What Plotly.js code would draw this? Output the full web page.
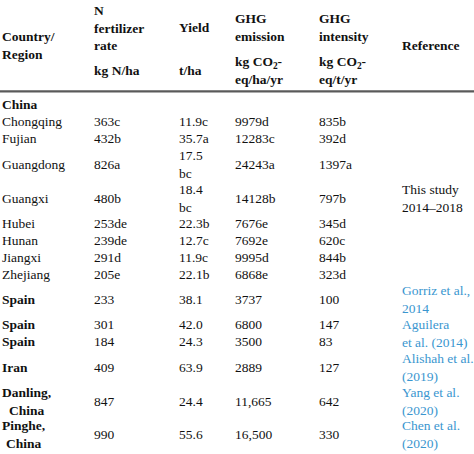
<!DOCTYPE html>
<html>
<head>
<meta charset="utf-8">
<script src="https://cdn.plot.ly/plotly-3.0.1.min.js"></script>
<style>html,body{margin:0;padding:0;background:#fff;}#chart{width:474px;height:454px;}</style>
</head>
<body>
<div id="chart"></div>
<script>
// ---- data ----
var regions = ["China","Chongqing","Fujian","Guangdong","Guangxi","Hubei","Hunan","Jiangxi","Zhejiang","Spain","Spain","Spain","Iran","Danling,<br>China","Pinghe,<br>China"];
var regionBold = [true,false,false,false,false,false,false,false,false,true,true,true,true,true,true];
var nRate = ["","363c","432b","826a","480b","253de","239de","291d","205e","233","301","184","409","847","990"];
var yieldVals = ["","11.9c","35.7a","17.5<br>bc","18.4<br>bc","22.3b","12.7c","11.9c","22.1b","38.1","42.0","24.3","63.9","24.4","55.6"];
var ghgEmission = ["","9979d","12283c","24243a","14128b","7676e","7692e","9995d","6868e","3737","6800","3500","2889","11,665","16,500"];
var ghgIntensity = ["","835b","392d","1397a","797b","345d","620c","844b","323d","100","147","83","127","642","330"];
var refText = ["This study<br>2014–2018","Gorriz et al.,<br>2014","Aguilera<br>et al. (2014)","Alishah et al.<br>(2019)","Yang et al.<br>(2020)","Chen et al.<br>(2020)"];
var refFirstRow = [1,9,10,12,13,14];
var refLastRow = [8,9,11,12,13,14];
var refLinked = [false,true,true,true,true,true];
var headerNames = ["Country/<br>Region","N<br>fertilizer<br>rate","Yield","GHG<br>emission","GHG<br>intensity","Reference"];
var headerUnits = ["","kg N/ha","t/ha","kg CO<sub>2</sub>-<br>eq/ha/yr","kg CO<sub>2</sub>-<br>eq/t/yr",""];

// ---- layout constants ----
var colX = [0, 92, 177, 233, 317, 400];
var FONT = "Liberation Serif";
var FS = 13.5;
var TXT = "#111111";
var BLUE = "#3a96cf";

function nLines(s){ return s.split("<br>").length; }

// row heights in text lines
var rowLines = regions.map(function(r,i){
  var m = Math.max(nLines(r), nLines(nRate[i]), nLines(yieldVals[i]), nLines(ghgEmission[i]), nLines(ghgIntensity[i]));
  refText.forEach(function(t,j){ if(refFirstRow[j]===i && refLastRow[j]===i) m = Math.max(m, nLines(t)); });
  return m;
});
var rowTop = [], acc = 0;
rowLines.forEach(function(n){ rowTop.push(acc); acc += n; });
function rowCenter(i){ return rowTop[i] + rowLines[i]/2; }

var ann = [];
function add(x, y, text, opts){
  opts = opts || {};
  ann.push({
    x: x, y: y, xref: "x", yref: "y", text: text, showarrow: false,
    xanchor: "left", yanchor: "middle", align: opts.align || "left",
    font: {family: FONT, size: FS, color: opts.color || TXT}
  });
}

// header
var headNameY = [-3.0, -4.05, -4.05, -4.05, -4.05, -3.0];
headerNames.forEach(function(h,c){ add(colX[c], headNameY[c], "<b>"+h+"</b>"); });
headerUnits.forEach(function(h,c){ if(h) add(colX[c], -1.54, "<b>"+h+"</b>"); });

// body
var cols = [nRate, yieldVals, ghgEmission, ghgIntensity];
regions.forEach(function(r,i){
  var y = rowCenter(i);
  add(colX[0], y, regionBold[i] ? "<b>"+r+"</b>" : r, {align: "center"});
  cols.forEach(function(col,c){ if(col[i]) add(colX[c+1], y, col[i]); });
});
refText.forEach(function(t,j){
  var y = (rowTop[refFirstRow[j]] + rowTop[refLastRow[j]] + rowLines[refLastRow[j]]) / 2;
  add(colX[5], y, t, {color: refLinked[j] ? BLUE : TXT});
});

var layout = {
  width: 474, height: 454,
  margin: {l:0, r:0, t:0, b:0},
  paper_bgcolor: "#fff", plot_bgcolor: "#fff",
  showlegend: false,
  xaxis: {range: [0, 474], visible: false, fixedrange: true},
  yaxis: {range: [21.13, -5.703], visible: false, fixedrange: true},
  annotations: ann,
  shapes: [{type: "line", xref: "paper", x0: 0, x1: 1, yref: "y", y0: -0.30, y1: -0.30,
            line: {color: "#5a5a5a", width: 2.2}}]
};

Plotly.newPlot("chart", [{type: "scatter", x: [], y: [], mode: "markers", hoverinfo: "skip"}], layout, {staticPlot: true, displayModeBar: false});
</script>
</body>
</html>
